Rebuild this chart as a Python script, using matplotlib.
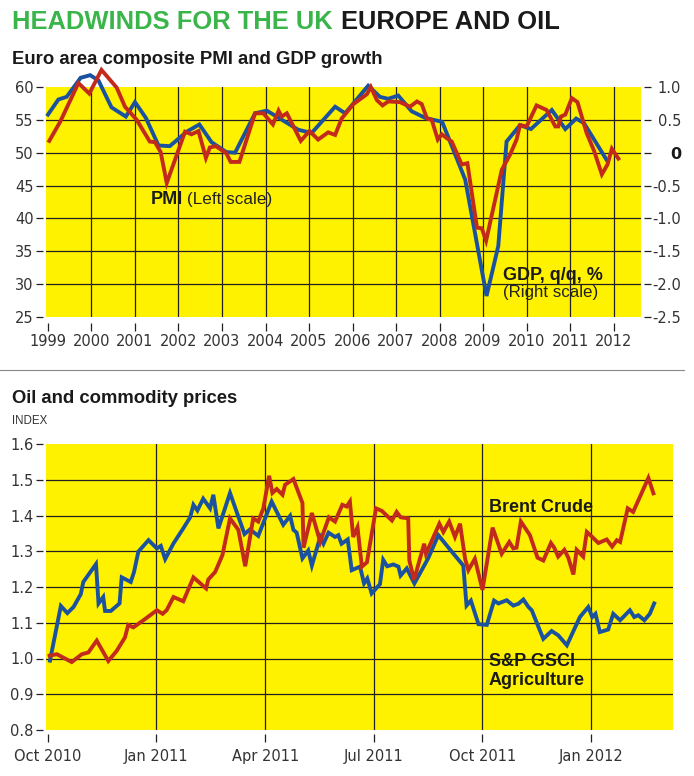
import matplotlib
matplotlib.use('Agg')
import matplotlib.pyplot as plt

# ---------------- data: Euro area PMI (left) and GDP q/q % (right) ----------------
pmi_t = [1999.03, 1999.28, 1999.70, 1999.95, 2000.23, 2000.58, 2000.77, 2001.04, 2001.34, 2001.46,
         2001.59, 2001.73, 2002.15, 2002.30, 2002.46, 2002.63, 2002.72, 2002.86, 2003.10, 2003.20,
         2003.40, 2003.76, 2003.95, 2004.17, 2004.30, 2004.37, 2004.49, 2004.81, 2005.01, 2005.21,
         2005.44, 2005.60, 2005.75, 2006.02, 2006.33, 2006.42, 2006.56, 2006.69, 2006.82, 2007.09,
         2007.32, 2007.48, 2007.59, 2007.71, 2007.82, 2007.96, 2008.05, 2008.17, 2008.28, 2008.51,
         2008.64, 2008.86, 2008.97, 2009.07, 2009.43, 2009.62, 2009.77, 2009.85, 2010.00, 2010.23,
         2010.46, 2010.66, 2010.73, 2010.79, 2010.89, 2011.04, 2011.17, 2011.38, 2011.55, 2011.73,
         2011.86, 2011.96, 2012.11]
pmi_v = [51.8, 54.7, 60.6, 59.0, 62.6, 59.9, 57.0, 55.0, 51.7, 51.6,
         50.1, 45.4, 53.2, 52.8, 53.3, 49.2, 50.8, 51.0, 49.9, 48.6,
         48.6, 56.0, 56.0, 54.3, 56.4, 55.5, 56.0, 51.8, 53.3, 52.0,
         53.1, 52.7, 55.2, 57.4, 58.9, 60.0, 58.0, 57.2, 57.8, 57.7,
         57.0, 57.8, 57.4, 55.2, 55.0, 52.0, 52.8, 52.2, 51.7, 48.2,
         48.4, 38.6, 38.5, 36.6, 47.4, 49.7, 52.0, 54.2, 54.0, 57.2,
         56.5, 54.0, 54.0, 55.5, 55.8, 58.3, 57.7, 53.0, 50.3, 46.7,
         48.2, 50.6, 49.1]

gdp_t = [1999.00, 1999.24, 1999.43, 1999.75, 1999.97, 2000.16, 2000.46, 2000.79, 2001.00, 2001.25,
         2001.54, 2001.80, 2002.19, 2002.48, 2002.76, 2003.10, 2003.30, 2003.76, 2004.03, 2004.33,
         2004.75, 2005.06, 2005.60, 2005.83, 2006.36, 2006.63, 2006.82, 2007.05, 2007.36, 2007.67,
         2008.06, 2008.59, 2009.08, 2009.35, 2009.54, 2009.85, 2010.10, 2010.58, 2010.89, 2011.14,
         2011.32, 2011.84]
gdp_v = [0.58, 0.81, 0.85, 1.14, 1.18, 1.10, 0.69, 0.55, 0.77, 0.53,
         0.11, 0.10, 0.32, 0.43, 0.16, 0.01, 0.00, 0.60, 0.64, 0.52,
         0.35, 0.30, 0.70, 0.60, 1.02, 0.85, 0.82, 0.87, 0.63, 0.53,
         0.47, -0.41, -2.18, -1.42, 0.17, 0.42, 0.36, 0.65, 0.36, 0.52,
         0.45, -0.11]

year_ticks = list(range(1999, 2013))
pmi_ticks = [25, 30, 35, 40, 45, 50, 55, 60]
gdp_ticks = [-2.5, -2.0, -1.5, -1.0, -0.5, 0.0, 0.5, 1.0]
gdp_tick_labels = ['-2.5', '-2.0', '-1.5', '-1.0', '-0.5', '0', '0.5', '1.0']

# ---------------- data: Oil and commodity prices (index), x = months since Oct 2010 ----------------
agri_m = [0.06, 0.36, 0.54, 0.71, 0.91, 0.98, 1.33, 1.40, 1.53, 1.58,
          1.74, 1.98, 2.04, 2.29, 2.38, 2.50, 2.78, 3.01, 3.12, 3.24,
          3.47, 3.74, 3.93, 4.02, 4.13, 4.29, 4.48, 4.57, 4.71, 5.03,
          5.43, 5.58, 5.81, 6.18, 6.50, 6.69, 6.78, 6.87, 7.03, 7.19,
          7.29, 7.52, 7.61, 7.75, 7.93, 8.02, 8.11, 8.28, 8.39, 8.62,
          8.73, 8.82, 8.94, 9.17, 9.26, 9.37, 9.54, 9.68, 9.74, 9.91,
          10.12, 10.50, 10.78, 11.20, 11.47, 11.56, 11.68, 11.89, 12.12, 12.32,
          12.44, 12.67, 12.85, 12.99, 13.13, 13.27, 13.36, 13.68, 13.91, 14.09,
          14.33, 14.69, 14.92, 15.03, 15.12, 15.24, 15.47, 15.61, 15.80, 16.07,
          16.19, 16.30, 16.47, 16.62, 16.74]
agri_v = [0.994, 1.147, 1.127, 1.144, 1.180, 1.214, 1.264, 1.154, 1.172, 1.133,
          1.133, 1.154, 1.227, 1.214, 1.242, 1.299, 1.331, 1.308, 1.315, 1.278,
          1.322, 1.364, 1.395, 1.430, 1.414, 1.447, 1.420, 1.458, 1.364, 1.463,
          1.348, 1.361, 1.343, 1.439, 1.374, 1.399, 1.360, 1.352, 1.280, 1.302,
          1.260, 1.340, 1.321, 1.352, 1.340, 1.345, 1.321, 1.333, 1.247, 1.257,
          1.210, 1.224, 1.182, 1.208, 1.276, 1.258, 1.263, 1.257, 1.232, 1.252,
          1.210, 1.280, 1.345, 1.293, 1.260, 1.148, 1.162, 1.096, 1.094, 1.162,
          1.154, 1.163, 1.148, 1.153, 1.165, 1.144, 1.135, 1.055, 1.077, 1.065,
          1.037, 1.116, 1.144, 1.116, 1.125, 1.074, 1.081, 1.125, 1.107, 1.135,
          1.116, 1.121, 1.107, 1.125, 1.154]

brent_m = [0.05, 0.25, 0.66, 0.94, 1.12, 1.35, 1.67, 1.90, 2.13, 2.22,
           2.36, 2.64, 3.01, 3.17, 3.28, 3.47, 3.74, 4.02, 4.37, 4.43,
           4.62, 4.82, 5.03, 5.26, 5.45, 5.67, 5.81, 5.95, 6.11, 6.20,
           6.32, 6.48, 6.55, 6.78, 7.03, 7.06, 7.29, 7.52, 7.76, 7.93,
           8.13, 8.25, 8.34, 8.43, 8.55, 8.67, 8.81, 9.06, 9.22, 9.50,
           9.63, 9.74, 9.95, 9.98, 10.11, 10.39, 10.44, 10.81, 10.92, 11.08,
           11.24, 11.38, 11.52, 11.61, 11.79, 12.00, 12.28, 12.53, 12.74, 12.85,
           12.94, 13.06, 13.31, 13.52, 13.68, 13.89, 13.98, 14.09, 14.26, 14.37,
           14.51, 14.60, 14.78, 14.88, 15.03, 15.20, 15.43, 15.58, 15.71, 15.80,
           16.01, 16.16, 16.58, 16.72]
brent_v = [1.008, 1.012, 0.990, 1.012, 1.017, 1.050, 0.993, 1.021, 1.059, 1.094,
           1.087, 1.107, 1.135, 1.125, 1.135, 1.172, 1.160, 1.227, 1.196, 1.221,
           1.242, 1.289, 1.392, 1.360, 1.258, 1.392, 1.383, 1.420, 1.511, 1.463,
           1.474, 1.458, 1.486, 1.502, 1.435, 1.310, 1.407, 1.326, 1.395, 1.383,
           1.430, 1.425, 1.439, 1.340, 1.367, 1.257, 1.269, 1.420, 1.413, 1.386,
           1.410, 1.395, 1.392, 1.275, 1.220, 1.321, 1.293, 1.377, 1.354, 1.383,
           1.340, 1.377, 1.279, 1.247, 1.279, 1.192, 1.366, 1.293, 1.326, 1.308,
           1.310, 1.383, 1.345, 1.282, 1.274, 1.323, 1.310, 1.285, 1.304, 1.282,
           1.235, 1.304, 1.285, 1.354, 1.340, 1.323, 1.333, 1.313, 1.331, 1.326,
           1.420, 1.410, 1.505, 1.462]

month_ticks = [0, 3, 6, 9, 12, 15]
month_labels = ['Oct 2010', 'Jan 2011', 'Apr 2011', 'Jul 2011', 'Oct 2011', 'Jan 2012']
index_ticks = [0.8, 0.9, 1.0, 1.1, 1.2, 1.3, 1.4, 1.5, 1.6]

# ---------------- style ----------------
W, H = 694, 776
YELLOW = '#FFF200'
BLUE = '#1B52A0'
RED = '#C22A1C'
GREEN = '#3AB54A'
GRID = '#231F20'
TICKC = '#333333'
DARK = '#1a1a1a'
SANS = ['Liberation Sans', 'DejaVu Sans']
LW = 2.8


def fx(x):
    return x / W


def fy(y):
    return 1 - y / H


fig = plt.figure(figsize=(W / 100, H / 100), dpi=100)
fig.patch.set_facecolor('white')

# ---------------- top chart ----------------
ax2 = fig.add_axes([fx(46), fy(317), fx(595), 230 / H])                 # right scale (GDP), yellow bg
ax_left = fig.add_axes([fx(46), fy(317), fx(595), 230 / H], sharex=ax2)  # left scale (PMI), on top

ax2.set_facecolor(YELLOW)
ax2.set_xlim(1998.955, 2012.63)
ax2.set_ylim(-2.5, 1.0)
ax_left.set_ylim(25, 60)
ax_left.patch.set_visible(False)
ax_left.set_zorder(ax2.get_zorder() + 1)

for yv in gdp_ticks[1:-1]:
    ax2.axhline(yv, color=GRID, lw=0.9, zorder=1)
for xv in year_ticks[1:]:
    ax2.axvline(xv, color=GRID, lw=0.9, zorder=1)

ax2.plot(gdp_t, gdp_v, color=BLUE, lw=LW, solid_joinstyle='miter', zorder=3, clip_on=False)
ax_left.plot(pmi_t, pmi_v, color=RED, lw=LW, solid_joinstyle='miter', zorder=3, clip_on=False)

for a in (ax2, ax_left):
    for s in a.spines.values():
        s.set_visible(False)

# left scale
ax_left.yaxis.tick_left()
ax_left.set_yticks(pmi_ticks)
ax_left.set_yticklabels([str(v) for v in pmi_ticks], family=SANS)
ax_left.spines['left'].set_position(('outward', 2.5))
ax_left.tick_params(axis='y', direction='out', length=5, width=0.9, pad=1.5,
                    colors=GRID, labelcolor=TICKC, labelsize=10.5)
ax_left.tick_params(axis='x', bottom=False, labelbottom=False)

# right scale
ax2.yaxis.tick_right()
ax2.set_yticks(gdp_ticks)
ax2.set_yticklabels(gdp_tick_labels, family=SANS)
ax2.spines['right'].set_position(('outward', 2))
ax2.tick_params(axis='y', direction='out', length=5, width=0.9, pad=22,
                colors=GRID, labelcolor=TICKC, labelsize=10.5)
for lab in ax2.get_yticklabels():
    lab.set_horizontalalignment('right')
    if lab.get_text() == '0':
        lab.set_fontweight('bold')
        lab.set_color(DARK)
        lab.set_fontsize(11.5)

# x axis years
ax2.set_xticks(year_ticks)
ax2.set_xticklabels([str(y) for y in year_ticks], family=SANS)
ax2.spines['bottom'].set_position(('outward', 4.5))
ax2.tick_params(axis='x', direction='out', length=6, width=0.9, pad=2,
                colors=GRID, labelcolor=TICKC, labelsize=10.5)

# ---------------- bottom chart ----------------
bx = fig.add_axes([fx(46), fy(730), fx(627), 286 / H])
bx.set_facecolor(YELLOW)
bx.set_xlim(-0.05, 17.26)
bx.set_ylim(0.8, 1.6)
for s in bx.spines.values():
    s.set_visible(False)
for yv in index_ticks[1:-1]:
    bx.axhline(yv, color=GRID, lw=0.9, zorder=1)
for xv in month_ticks[1:]:
    bx.axvline(xv, color=GRID, lw=0.9, zorder=1)

bx.plot(agri_m, agri_v, color=BLUE, lw=LW, solid_joinstyle='miter', zorder=3)
bx.plot(brent_m, brent_v, color=RED, lw=LW, solid_joinstyle='miter', zorder=4)

bx.set_yticks(index_ticks)
bx.set_yticklabels([f'{v:.1f}' for v in index_ticks], family=SANS)
bx.spines['left'].set_position(('outward', 2.5))
bx.tick_params(axis='y', direction='out', length=5, width=0.9, pad=1.5,
               colors=GRID, labelcolor=TICKC, labelsize=10.5)
bx.set_xticks(month_ticks)
bx.set_xticklabels(month_labels, family=SANS)
bx.spines['bottom'].set_position(('outward', 3))
bx.tick_params(axis='x', direction='out', length=6, width=0.9, pad=4.5,
               colors=GRID, labelcolor=TICKC, labelsize=10.5)

# ---------------- texts ----------------
t1 = fig.text(fx(12), fy(29), 'HEADWINDS FOR THE UK', color=GREEN, fontsize=18.4,
              fontweight='bold', family=SANS, va='baseline', ha='left')
fig.canvas.draw()
bb = t1.get_window_extent()
fig.text((bb.x1 + 8) / W, fy(29), 'EUROPE AND OIL', color=DARK, fontsize=18.4,
         fontweight='bold', family=SANS, va='baseline', ha='left')

fig.text(fx(12), fy(63.5), 'Euro area composite PMI and GDP growth', color=DARK,
         fontsize=13.3, fontweight='bold', family=SANS, va='baseline', ha='left')

fig.add_artist(plt.Line2D([fx(0), fx(684)], [fy(370), fy(370)], color='#888888', lw=0.8))

fig.text(fx(12), fy(403), 'Oil and commodity prices', color=DARK,
         fontsize=13.3, fontweight='bold', family=SANS, va='baseline', ha='left')
fig.text(fx(12), fy(424), 'INDEX', color=TICKC, fontsize=8.3, family=SANS,
         va='baseline', ha='left')

# series labels
p1 = fig.text(fx(151), fy(204), 'PMI', color=DARK, fontsize=13, fontweight='bold',
              family=SANS, va='baseline', ha='left')
fig.canvas.draw()
pb = p1.get_window_extent()
fig.text((pb.x1 + 4) / W, fy(204), '(Left scale)', color='#222222', fontsize=12.3,
         family=SANS, va='baseline', ha='left')

fig.text(fx(503), fy(280), 'GDP, q/q, %', color=DARK, fontsize=13, fontweight='bold',
         family=SANS, va='baseline', ha='left')
fig.text(fx(503), fy(297), '(Right scale)', color='#222222', fontsize=12.2,
         family=SANS, va='baseline', ha='left')

fig.text(fx(489), fy(512), 'Brent Crude', color=DARK, fontsize=13, fontweight='bold',
         family=SANS, va='baseline', ha='left')
fig.text(fx(489), fy(666), 'S&P GSCI', color=DARK, fontsize=13, fontweight='bold',
         family=SANS, va='baseline', ha='left')
fig.text(fx(489), fy(685), 'Agriculture', color=DARK, fontsize=13, fontweight='bold',
         family=SANS, va='baseline', ha='left')

fig.savefig('out.png', dpi=100, facecolor='white')
